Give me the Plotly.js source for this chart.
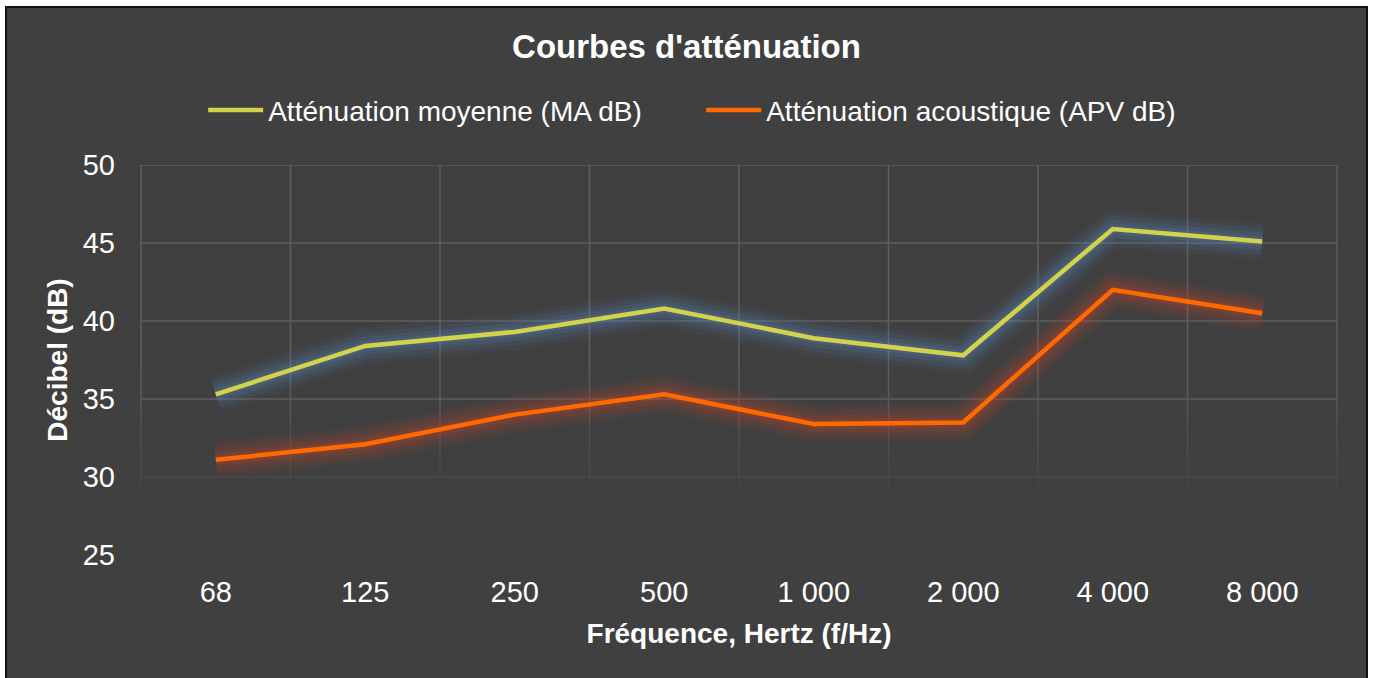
<!DOCTYPE html>
<html>
<head>
<meta charset="utf-8">
<script src="https://cdn.plot.ly/plotly-3.0.1.min.js"></script>
<style>
  html, body { margin: 0; padding: 0; background: #ffffff; overflow: hidden; }
  #frame { position: absolute; left: 5px; top: 6px; width: 1359px; height: 676px; border: 2px solid #111; background: #404040; }
  #chart { width: 1359px; height: 670px; }
</style>
</head>
<body>
<div id="frame"><div id="chart"></div></div>
<script>
const categories = ["68", "125", "250", "500", "1 000", "2 000", "4 000", "8 000"];
const seriesMA = [35.3, 38.4, 39.3, 40.8, 38.9, 37.8, 45.9, 45.1];
const seriesAPV = [31.1, 32.1, 34.0, 35.3, 33.4, 33.5, 42.0, 40.5];
const seriesNames = ["Atténuation moyenne (MA dB)", "Atténuation acoustique (APV dB)"];
const yTicks = [25, 30, 35, 40, 45, 50];

const FONT = "'Liberation Sans', Arial, Helvetica, sans-serif";
const YELLOW = "#D2D34B";
const ORANGE = "#FF6A00";
const GRID = "#5e5e5e";

function glow(y, color, width, opacity) {
  return { x: categories, y: y, type: "scatter", mode: "lines", showlegend: false, hoverinfo: "skip",
    line: { color: color, width: width }, opacity: opacity };
}

const traces = [
  glow(seriesMA, "#5a8ec4", 36, 0.07),
  glow(seriesMA, "#5a8ec4", 27, 0.10),
  glow(seriesMA, "#5a8ec4", 18, 0.14),
  glow(seriesMA, "#5a8ec4", 10, 0.18),
  glow(seriesAPV, "#d0402a", 36, 0.07),
  glow(seriesAPV, "#d0402a", 27, 0.10),
  glow(seriesAPV, "#d0402a", 18, 0.14),
  glow(seriesAPV, "#d0402a", 10, 0.18),
  { x: categories, y: seriesMA, type: "scatter", mode: "lines", name: seriesNames[0],
    line: { color: YELLOW, width: 4.5 } },
  { x: categories, y: seriesAPV, type: "scatter", mode: "lines", name: seriesNames[1],
    line: { color: ORANGE, width: 4.5 } }
];

// grid drawn as shapes so it can fade toward the bottom (as in the reference)
const shapes = [];
const nCat = categories.length;
yTicks.forEach(v => {
  let op = 1;
  if (v <= 25) op = 0;
  else if (v <= 30) op = 0.35;
  if (op > 0) shapes.push({ type: "line", xref: "paper", yref: "y", x0: 0, x1: 1, y0: v, y1: v,
    line: { color: GRID, width: 1.5 }, opacity: op, layer: "below" });
});
const fadeTop = 36.5, fadeBottom = 28, steps = 17;
for (let k = 0; k <= nCat; k++) {
  const xp = k / nCat;
  shapes.push({ type: "line", xref: "paper", yref: "y", x0: xp, x1: xp, y0: fadeTop, y1: 50,
    line: { color: GRID, width: 1.5 }, layer: "below" });
  for (let i = 0; i < steps; i++) {
    const y1 = fadeTop - i * (fadeTop - fadeBottom) / steps;
    const y0 = fadeTop - (i + 1) * (fadeTop - fadeBottom) / steps;
    shapes.push({ type: "line", xref: "paper", yref: "y", x0: xp, x1: xp, y0: y0, y1: y1,
      line: { color: GRID, width: 1.5 }, opacity: 1 - (i + 0.5) / steps, layer: "below" });
  }
}

const layout = {
  width: 1359, height: 670,
  paper_bgcolor: "#404040", plot_bgcolor: "#404040",
  margin: { l: 134, r: 29, t: 157, b: 123 },
  font: { family: FONT, color: "#ffffff", size: 28 },
  title: { text: "<b>Courbes d'atténuation</b>", x: 0.5, xanchor: "center", y: 0.942, yanchor: "middle",
    font: { family: FONT, size: 33, color: "#ffffff" } },
  showlegend: true,
  legend: { orientation: "h", x: 0.052, xanchor: "left", y: 1.14, yanchor: "middle",
    font: { family: FONT, size: 28, color: "#ffffff" }, bgcolor: "rgba(0,0,0,0)",
    itemwidth: 55, entrywidth: 428, entrywidthmode: "pixels", tracegroupgap: 0 },
  xaxis: {
    type: "category", categoryorder: "array", categoryarray: categories,
    range: [-0.5, 7.5], showgrid: false,
    showline: false, zeroline: false, ticks: "", ticklabelstandoff: 17,
    tickfont: { family: FONT, size: 29, color: "#ffffff" },
    title: { text: "<b>Fréquence, Hertz (f/Hz)</b>", standoff: 16, font: { family: FONT, size: 28, color: "#ffffff" } }
  },
  yaxis: {
    range: [25, 50], tickvals: yTicks, ticktext: yTicks.map(String), showgrid: false,
    showline: false, zeroline: false, ticks: "", ticklabelstandoff: 25,
    tickfont: { family: FONT, size: 29, color: "#ffffff" },
    title: { text: "<b>Décibel (dB)</b>", standoff: 6, font: { family: FONT, size: 28, color: "#ffffff" } }
  },
  shapes: shapes
};

Plotly.newPlot("chart", traces, layout, { displayModeBar: false, staticPlot: true });
</script>
</body>
</html>
